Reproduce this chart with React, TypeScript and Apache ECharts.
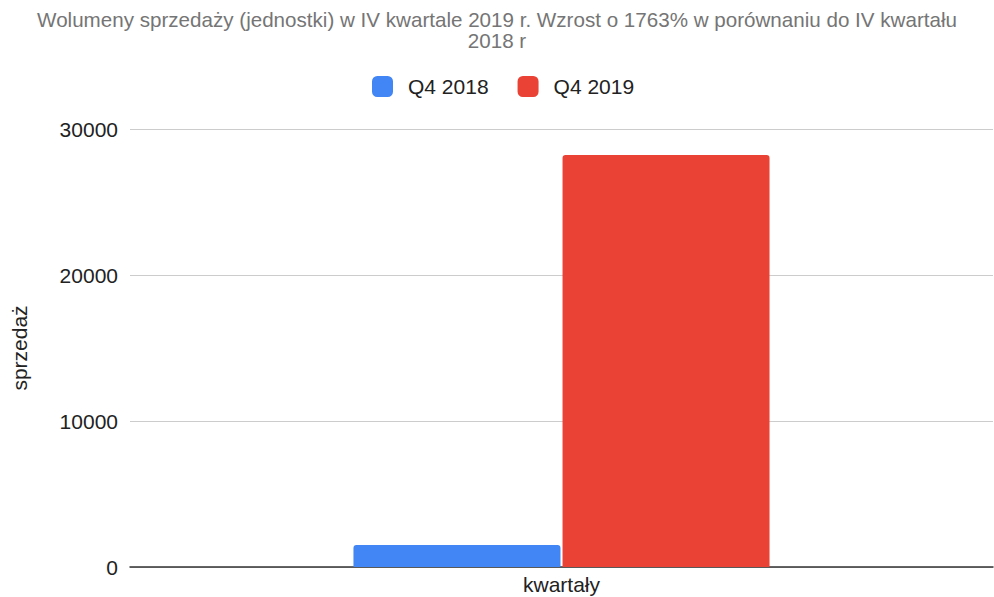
import React, { useEffect, useRef } from "react";
import * as echarts from "echarts";

const categories = ["kwartały"];
const seriesNames = ["Q4 2018", "Q4 2019"];
const q42018 = [1510];
const q42019 = [28220];
const colors = ["#4285F4", "#EA4335"];

export default function App() {
  const ref = useRef<HTMLDivElement>(null);
  useEffect(() => {
    if (!ref.current) return;
    const chart = echarts.init(ref.current, null, { renderer: "svg" });
    chart.setOption({
      animation: false,
      textStyle: { fontFamily: "'Liberation Sans', Arial, sans-serif" },
      title: {
        text: "Wolumeny sprzedaży (jednostki) w IV kwartale 2019 r. Wzrost o 1763% w porównaniu do IV kwartału\n2018 r",
        left: "center",
        top: 4,
        textStyle: { fontSize: 20.6, fontWeight: "normal", color: "#757575", lineHeight: 21 },
      },
      legend: {
        top: 71,
        left: 367,
        icon: "roundRect",
        itemWidth: 21,
        itemHeight: 21,
        itemGap: 29,
        textStyle: { fontSize: 21, color: "#222", padding: [0, 0, 0, 10] },
        data: seriesNames,
      },
      grid: { left: 130, right: 1, top: 129, bottom: 30, containLabel: false, outerBoundsMode: "none" },
      xAxis: {
        type: "category",
        data: categories,
        name: "kwartały",
        nameLocation: "middle",
        nameGap: 7,
        nameTextStyle: { fontSize: 21, color: "#222", verticalAlign: "top" },
        axisLabel: { show: false },
        axisTick: { show: false },
        axisLine: { lineStyle: { color: "#333", width: 1.5 } },
      },
      yAxis: {
        type: "value",
        min: 0,
        max: 30000,
        interval: 10000,
        name: "sprzedaż",
        nameLocation: "middle",
        nameGap: 100,
        nameTextStyle: { fontSize: 21, color: "#222" },
        axisLabel: { fontSize: 21, color: "#222", margin: 12, formatter: (v: number) => String(v) },
        axisLine: { show: false },
        axisTick: { show: false },
        splitLine: { lineStyle: { color: "#ccc" } },
      },
      series: [
        {
          name: seriesNames[0],
          type: "bar",
          data: q42018,
          barWidth: 207,
          barGap: "1%",
          itemStyle: { color: colors[0], borderRadius: [3, 3, 0, 0] },
        },
        {
          name: seriesNames[1],
          type: "bar",
          data: q42019,
          barWidth: 207,
          barGap: "1%",
          itemStyle: { color: colors[1], borderRadius: [3, 3, 0, 0] },
        },
      ],
    });
    return () => chart.dispose();
  }, []);
  return <div ref={ref} style={{ width: 994, height: 597, position: "absolute", left: 0, top: 0 }} />;
}
